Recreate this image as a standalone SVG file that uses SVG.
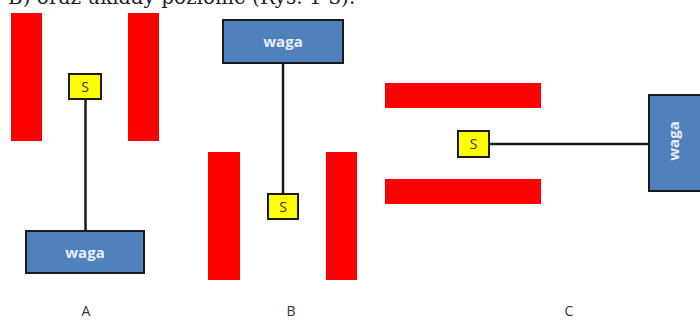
<svg xmlns="http://www.w3.org/2000/svg" width="700" height="320" viewBox="0 0 700 320">
<style>
.bar{fill:#ff0000;}
.s{fill:#ffff00;stroke:#1a1a1a;stroke-width:2;}
.w{fill:#4f81bd;stroke:#1a1a1a;stroke-width:2;}
.wt{font-family:"Open Sans","Liberation Sans",sans-serif;font-weight:bold;font-size:15px;fill:#e8eef8;text-anchor:middle;}
.st{font-family:"Open Sans","Liberation Sans",sans-serif;font-size:14px;fill:#333;text-anchor:middle;}
.lab{font-family:"Open Sans","Liberation Sans",sans-serif;font-size:14px;fill:#333;text-anchor:middle;}
.c{stroke:#1a1a1a;stroke-width:2.5;fill:none;}
</style>
<rect width="700" height="320" fill="#fff"/>
<text x="8" y="4" font-family="DejaVu Serif, serif" font-size="20" fill="#222">B) oraz układy poziome (Rys. 1-3).</text>
<g id="connectors">
<line class="c" x1="85.5" y1="99" x2="85.5" y2="231"/>
<line class="c" x1="283" y1="63" x2="283" y2="194"/>
<line class="c" x1="489" y1="144" x2="649" y2="144" stroke-width="2"/>
</g>
<g id="A">
<rect class="bar" x="11" y="13" width="31" height="128"/>
<rect class="bar" x="128" y="13" width="31" height="128"/>
<g id="A-s"><rect class="s" x="69" y="74" width="32" height="25"/><text class="st" x="85" y="92">S</text></g>
<g id="A-waga"><rect class="w" x="26" y="231" width="118" height="42"/><text class="wt" x="85" y="258">waga</text></g>
<text class="lab" x="86" y="316">A</text>
</g>
<g id="B">
<g id="B-waga"><rect class="w" x="223" y="20" width="120" height="43"/><text class="wt" x="283" y="47">waga</text></g>
<rect class="bar" x="208" y="152" width="32" height="128"/>
<rect class="bar" x="326" y="152" width="31" height="128"/>
<g id="B-s"><rect class="s" x="268" y="194" width="30" height="25"/><text class="st" x="283" y="212">S</text></g>
<text class="lab" x="291" y="316">B</text>
</g>
<g id="C">
<rect class="bar" x="385" y="83" width="156" height="25"/>
<rect class="bar" x="385" y="179" width="156" height="25"/>
<g id="C-s"><rect class="s" x="458" y="131" width="31" height="26"/><text class="st" x="473.5" y="149">S</text></g>
<g id="C-waga"><rect class="w" x="649" y="95" width="52" height="96"/><text class="wt" transform="translate(679,141) rotate(-90)" x="0" y="0">waga</text></g>
<text class="lab" x="569" y="316">C</text>
</g>
</svg>
